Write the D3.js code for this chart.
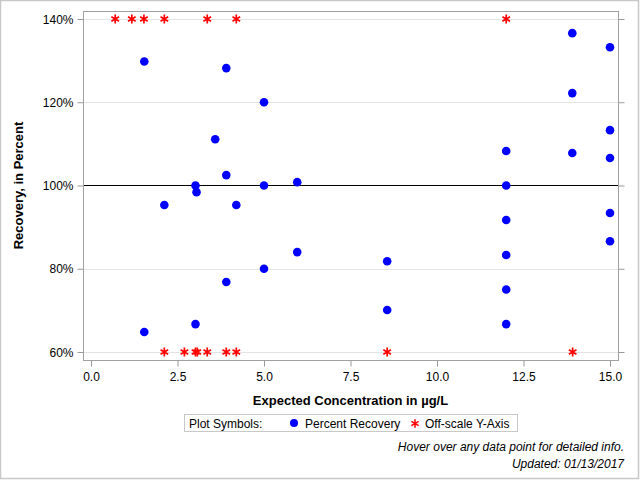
<!DOCTYPE html>
<html><head><meta charset="utf-8">
<script src="https://cdn.jsdelivr.net/npm/d3@7"></script>
<style>body{margin:0;background:#fff}svg{display:block}text{font-family:"Liberation Sans",Arial,sans-serif}</style>
</head><body><svg id="c" width="640" height="480"></svg>
<script>
// Percent recovery points
const recX = [1.54, 3.91, 5.0, 3.59, 3.91, 3.02, 3.05, 5.0, 5.96, 13.91, 15.0, 13.91, 15.0, 12.0, 13.91, 15.0, 12.0, 2.12, 4.2, 5.96, 5.0, 3.91, 3.02, 1.54, 15.0, 15.0, 12.0, 12.0, 12.0, 12.0, 8.56, 8.56];
const recY = [129.8, 128.2, 120.0, 111.1, 102.5, 100.0, 98.4, 100.0, 100.8, 136.6, 133.2, 122.2, 113.3, 108.3, 107.8, 106.6, 100.0, 95.3, 95.3, 84.0, 80.0, 76.8, 66.7, 64.8, 93.4, 86.6, 91.7, 83.3, 75.0, 66.7, 81.8, 70.1];
// Off-scale points (plotted at axis limits)
const offX = [0.70, 1.18, 1.53, 2.12, 3.36, 4.2, 12.0, 2.12, 2.70, 3.02, 3.07, 3.36, 3.91, 4.2, 8.56, 13.92];
const offY = [140, 140, 140, 140, 140, 140, 140, 60, 60, 60, 60, 60, 60, 60, 60, 60];
const xTicks = [0, 2.5, 5, 7.5, 10, 12.5, 15];
const yTicks = [60, 80, 100, 120, 140];
const xTitle = "Expected Concentration in µg/L";
const yTitle = "Recovery, in Percent";
const legendTitle = "Plot Symbols:";
const legendLabels = ["Percent Recovery", "Off-scale Y-Axis"];
const notes = ["Hover over any data point for detailed info.", "Updated: 01/13/2017"];

const svg = d3.select("#c");
const L = 83, R = 618, T = 11, B = 360;
const x = d3.scaleLinear().domain([-0.231, 15.231]).range([L, R]);
const y = d3.scaleLinear().domain([58.08, 141.92]).range([B, T]);

// outer border
svg.append("rect").attr("x", 0.5).attr("y", 0.5).attr("width", 638).attr("height", 478)
  .attr("fill", "none").attr("stroke", "#c8c8c8").attr("stroke-width", 1.5);

// gridlines
svg.append("g").selectAll("line").data(yTicks.filter(d => d !== 100)).join("line")
  .attr("x1", L).attr("x2", R).attr("y1", d => Math.round(y(d)) + 0.5).attr("y2", d => Math.round(y(d)) + 0.5)
  .attr("stroke", "#e3e3e3").attr("stroke-width", 1);
svg.append("line").attr("x1", L).attr("x2", R).attr("y1", Math.round(y(100)) + 0.5).attr("y2", Math.round(y(100)) + 0.5)
  .attr("stroke", "#000").attr("stroke-width", 1.2);

// axes
const yAxisL = d3.axisLeft(y).tickValues(yTicks).tickSize(6).tickPadding(4).tickFormat(d => d + "%");
const gl = svg.append("g").attr("transform", `translate(${L + 0.5},0)`).call(yAxisL);
const yAxisR = d3.axisRight(y).tickValues(yTicks).tickSize(6).tickFormat("");
const gr = svg.append("g").attr("transform", `translate(${R + 0.5},0)`).call(yAxisR);
const xAxis = d3.axisBottom(x).tickValues(xTicks).tickSize(6).tickPadding(6).tickFormat(d3.format(".1f"));
const gx = svg.append("g").attr("transform", `translate(0,${B + 0.5})`).call(xAxis);
[gl, gr, gx].forEach(g => {
  g.select(".domain").remove();
  g.selectAll(".tick line").attr("stroke", "#999");
  g.selectAll("text").attr("font-size", 12).attr("fill", "#000").attr("font-family", '"Liberation Sans",Arial,sans-serif');
});
gl.selectAll(".tick text").attr("dy", "0.35em");

// frame
svg.append("rect").attr("x", L + 0.5).attr("y", T + 0.5).attr("width", R - L).attr("height", B - T)
  .attr("fill", "none").attr("stroke", "#a0a0a0").attr("stroke-width", 1);

// titles
svg.append("text").attr("x", (L + R) / 2).attr("y", 405).attr("text-anchor", "middle")
  .attr("font-size", 13).attr("font-weight", "bold").text(xTitle);
svg.append("text").attr("transform", `translate(23,${(T + B) / 2}) rotate(-90)`).attr("text-anchor", "middle")
  .attr("font-size", 13).attr("font-weight", "bold").text(yTitle);

// asterisk marker path
function ast(s) {
  const p = d3.path();
  for (let k = 0; k < 3; k++) {
    const a = Math.PI / 2 + k * Math.PI / 3;
    p.moveTo(-Math.cos(a) * s, -Math.sin(a) * s);
    p.lineTo(Math.cos(a) * s, Math.sin(a) * s);
  }
  return p.toString();
}

// points
svg.append("g").selectAll("circle").data(recX.map((v, i) => [v, recY[i]])).join("circle")
  .attr("cx", d => x(d[0])).attr("cy", d => y(d[1])).attr("r", 4.3).attr("fill", "#0000ff");
svg.append("g").selectAll("path").data(offX.map((v, i) => [v, offY[i]])).join("path")
  .attr("transform", d => `translate(${x(d[0])},${y(d[1])})`).attr("d", ast(4.4))
  .attr("stroke", "#ff0000").attr("stroke-width", 1.7).attr("fill", "none");

// legend
const lg = svg.append("g");
lg.append("rect").attr("x", 184.5).attr("y", 414.5).attr("width", 333).attr("height", 17)
  .attr("fill", "#fff").attr("stroke", "#c8c8c8");
lg.append("text").attr("x", 189).attr("y", 427.5).attr("font-size", 12).text(legendTitle);
lg.append("circle").attr("cx", 294).attr("cy", 423).attr("r", 4).attr("fill", "#0000ff");
lg.append("text").attr("x", 305).attr("y", 427.5).attr("font-size", 12).text(legendLabels[0]);
lg.append("path").attr("transform", "translate(415,423.5)").attr("d", ast(4.2))
  .attr("stroke", "#ff0000").attr("stroke-width", 1.5).attr("fill", "none");
lg.append("text").attr("x", 425).attr("y", 427.5).attr("font-size", 12).text(legendLabels[1]);

// notes
svg.append("g").selectAll("text").data(notes).join("text")
  .attr("x", 624).attr("y", (d, i) => 451 + i * 17).attr("text-anchor", "end")
  .attr("font-size", 12).attr("font-style", "italic").text(d => d);
</script></body></html>
